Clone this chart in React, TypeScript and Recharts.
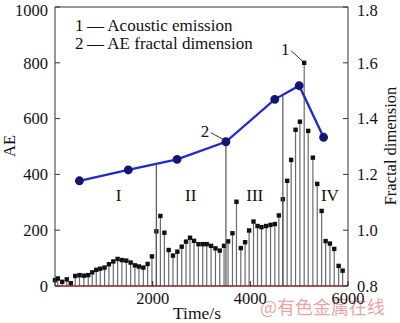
import React from 'react';
import { ComposedChart, Bar, Line, XAxis, YAxis, ReferenceLine, ReferenceDot } from 'recharts';

// acoustic emission stems (time in s, AE count)
const stemTimes = [
  0, 57, 148, 242, 324, 414, 502, 591, 681, 763, 845, 927, 1015, 1104, 1194, 1282, 1370,
  1460, 1549, 1637, 1719, 1809, 1897, 1985, 2076, 2158, 2240, 2328, 2416, 2506, 2595, 2683,
  2765, 2847, 2937, 3025, 3107, 3196, 3286, 3374, 3462, 3544, 3634, 3716, 3805, 3893, 3975,
  4065, 4147, 4229, 4324, 4414, 4502, 4584, 4666, 4754, 4836, 4926, 5015, 5103, 5185, 5281,
  5370, 5460, 5542, 5630, 5718, 5808, 5890,
];
const stemAE = [
  21, 27, 15, 24, 10, 36, 39, 37, 39, 49, 58, 62, 66, 78, 88, 97, 93, 91, 84, 74, 70, 66,
  79, 106, 196, 251, 191, 129, 109, 123, 141, 159, 173, 162, 150, 150, 150, 144, 135, 127,
  144, 160, 189, 302, 136, 157, 199, 231, 215, 211, 215, 219, 222, 253, 311, 377, 452, 560,
  589, 800, 556, 460, 366, 269, 161, 152, 133, 72, 55,
];

// AE fractal dimension
const fdTimes = [500, 1500, 2500, 3500, 4500, 5000, 5500];
const fdValues = [1.177, 1.216, 1.254, 1.317, 1.469, 1.518, 1.333];

// stage boundaries (drop lines up to the fractal curve)
const stageTimes = [2076, 3500, 4666];
const stageTops = [1.238, 1.317, 1.483];
const stageNames = ['I', 'II', 'III', 'IV'];
const stageNameTimes = [1300, 2780, 4090, 5630];
const stageNameAE = 326;

const xTicks = [2000, 4000, 6000];
const aeTicks = [0, 200, 400, 600, 800, 1000];
const fdTicks = [0.8, 1.0, 1.2, 1.4, 1.6, 1.8];

const stems = stemTimes.map((t, i) => ({ t, ae: stemAE[i] }));
const fdData = fdTimes.map((t, i) => ({ t, fd: fdValues[i] }));

const serif = '"Liberation Serif", "Times New Roman", serif';
const tickStyle = { fill: '#111', fontSize: 16.5, fontFamily: serif };

const Stem = (props: any) => {
  const { x, y, width, height } = props;
  if (height == null || isNaN(y)) return null;
  const cx = x + width / 2;
  return (
    <g>
      <line x1={cx} x2={cx} y1={y} y2={y + height} stroke="#6a6a6a" strokeWidth={1.2} />
      <rect x={cx - 2.2} y={y - 2.2} width={4.4} height={4.4} fill="#111" />
    </g>
  );
};

// numbered callout with a short leader line
const callout = (label: string, dx: number, dy: number) => (props: any) => {
  const { cx, cy } = props;
  return (
    <g>
      <line x1={cx + dx + 6} y1={cy + dy + 1} x2={cx - 2} y2={cy - 2} stroke="#333" strokeWidth={1} />
      <text x={cx + dx} y={cy + dy} textAnchor="middle" dominantBaseline="central"
        fontSize={17} fontFamily={serif} fill="#111">{label}</text>
    </g>
  );
};

export default function App() {
  return (
    <div style={{ position: 'absolute', left: 0, top: 0, width: 400, height: 323, background: '#fff' }}>
      <ComposedChart width={400} height={323} data={stems}
        margin={{ top: 7, right: 0, bottom: 0, left: 0 }}>
        <XAxis dataKey="t" type="number" domain={[0, 6000]} ticks={xTicks} height={37}
          tickSize={-5} tickMargin={11} tick={tickStyle}
          axisLine={{ stroke: '#8b1c1c', strokeWidth: 1.5 }} tickLine={{ stroke: '#222' }} />
        <YAxis yAxisId="left" domain={[0, 1000]} ticks={aeTicks} width={55}
          tickSize={-5} tickMargin={12} tick={tickStyle}
          axisLine={{ stroke: '#333' }} tickLine={{ stroke: '#333' }} />
        <YAxis yAxisId="right" orientation="right" domain={[0.8, 1.8]} ticks={fdTicks} width={52}
          tickSize={-5} tickMargin={14} tick={tickStyle} tickFormatter={(v: number) => v.toFixed(1)}
          axisLine={{ stroke: '#333' }} tickLine={{ stroke: '#333' }} />
        <ReferenceLine yAxisId="left" y={1000} stroke="#333" />
        {stageTimes.map((t, i) => (
          <ReferenceLine key={t} yAxisId="right"
            segment={[{ x: t, y: 0.8 }, { x: t, y: stageTops[i] }]}
            stroke="#555" strokeWidth={1.2} />
        ))}
        <Bar yAxisId="left" dataKey="ae" barSize={1.5} shape={Stem} isAnimationActive={false} />
        <Line yAxisId="right" data={fdData} dataKey="fd" stroke="#1f28d2" strokeWidth={2.3}
          dot={{ r: 3.3, fill: '#161670', stroke: '#161670' }} isAnimationActive={false} />
        {stageNames.map((s, i) => (
          <ReferenceDot key={s} yAxisId="left" x={stageNameTimes[i]} y={stageNameAE} r={0}
            shape={(p: any) => (
              <text x={p.cx} y={p.cy} textAnchor="middle" dominantBaseline="central"
                fontSize={17} fontFamily={serif} fill="#111">{s}</text>
            )} />
        ))}
        <ReferenceDot yAxisId="left" x={5103} y={800} r={0} shape={callout('1', -19, -13)} />
        <ReferenceDot yAxisId="right" x={3500} y={1.317} r={0} shape={callout('2', -21, -10)} />
        <text x={9} y={146} transform="rotate(-90 9 146)" textAnchor="middle" dominantBaseline="central"
          fontSize={16.5} fontFamily={serif} fill="#111">AE</text>
        <text x={390} y={146} transform="rotate(-90 390 146)" textAnchor="middle" dominantBaseline="central"
          fontSize={16.5} fontFamily={serif} fill="#111">Fractal dimension</text>
        <text x={197} y={313} textAnchor="middle" dominantBaseline="central"
          fontSize={17.5} fontFamily={serif} fill="#111">Time/s</text>
        <text x={75} y={25} dominantBaseline="central" fontSize={17} fontFamily={serif} fill="#111">
          1{'\u2009—\u2009'}Acoustic emission
        </text>
        <text x={75} y={43} dominantBaseline="central" fontSize={17} fontFamily={serif} fill="#111">
          2{'\u2009—\u2009'}AE fractal dimension
        </text>
        <text x={260} y={306} dominantBaseline="central" fontSize={18}
          fontFamily='"Noto Sans CJK SC", sans-serif' fill="#e47a7a" fillOpacity={0.7}>
          @有色金属在线
        </text>
      </ComposedChart>
    </div>
  );
}
